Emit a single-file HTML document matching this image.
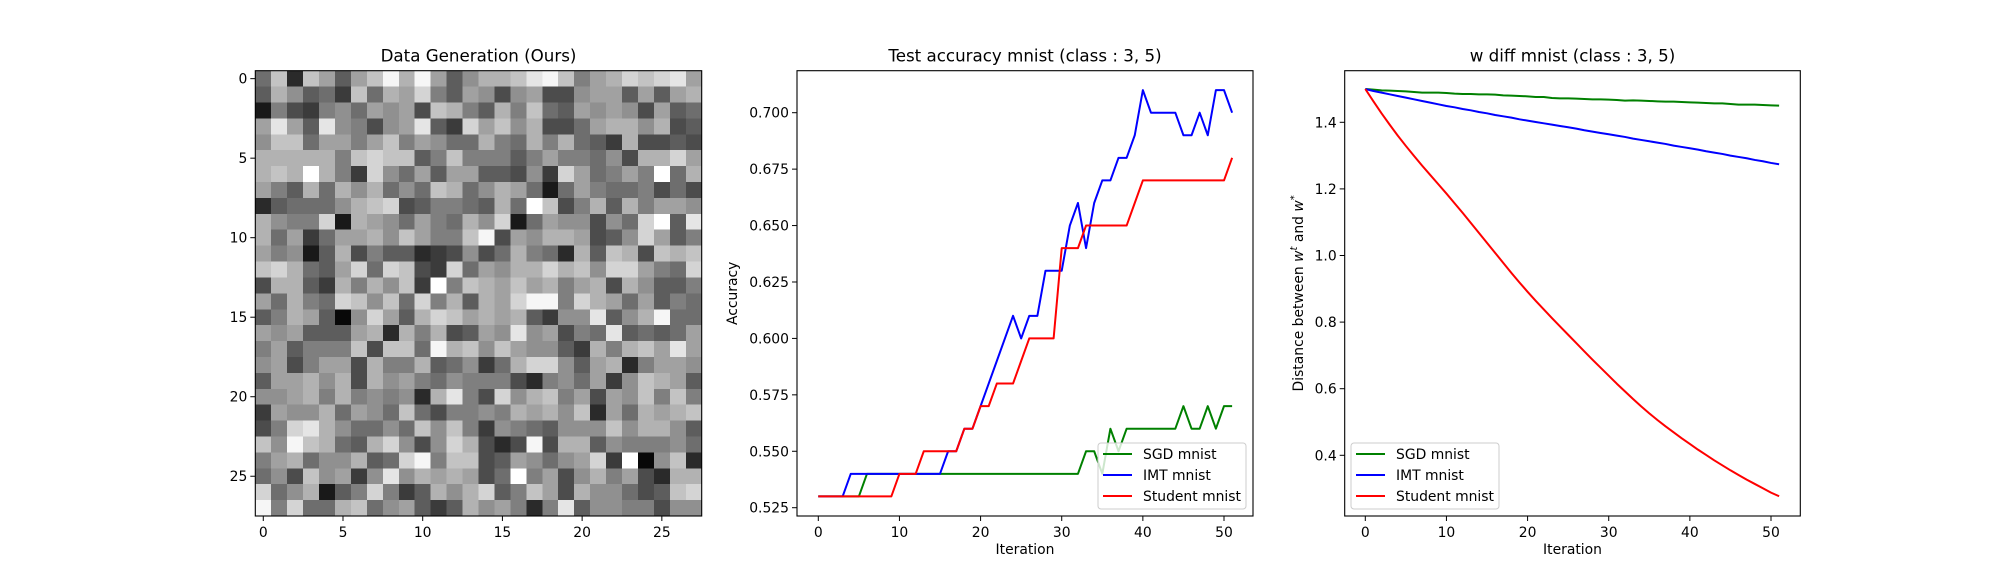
<!DOCTYPE html>
<html><head><meta charset="utf-8">
<style>
html,body{margin:0;padding:0;background:#fff;}
svg{display:block;font-family:"DejaVu Sans","Liberation Sans",sans-serif;}
</style></head>
<body>
<svg id="fig" width="2000" height="580" viewBox="0 0 2000 580" xmlns="http://www.w3.org/2000/svg">
<rect width="2000" height="580" fill="#fff"/>
</svg>
<script>
// ---------- data ----------
const pixelRows = [
"6B2B959BEAE958AABDEB79ACBCD9","5A8563B6A9C7598489448995959A","17437869894BA75A7B6598984956",
"9D95D87489D53C9B8A4469AA8A45","8BB69979B79866A76A7A653A4454","AAAAA7BCBB57B77757977684AAC9",
"ABAFA73C86959955483C96797F6A","975A6A8A686BA68A961697667464","256668ABC457765A6FB47A5A7998",
"A877C1A986976A8C16988486CF5D","A693699A8B977BE498AA9458C957","97815A4755234846A762A5BA4BAB",
"BCA659C6CB43C698AACAB8CC976C","4AA53A7A8B3F7BA9B9A79A4A8557","96A76CB8B6C7A5A9CEE7CA969576",
"57A9508C95ACB9A9A5388D58AE66","9895559A2A7A4598D89476D56569","795777B4BB6EAB8B98853A7AB9D9",
"8947994A77A56836ACC859A27998","599A8A4A8976877742786938BA95","889A7A78782AD74C8AB79498B7B7",
"3988A6986B647787A9A8B296A9AB","47CDA86686B8B738765888B8AA85","B8EBA65AC848CA424E4AA5877786",
"79A688A56CE7BB4598689C3F08B2","684B8938D8A9A946F7948A7942AA","C68A157C735A8AC57B94A88645BC",
"E7C66AB689535A89727D58877488"];
const imgTicks = [0,5,10,15,20,25];

const accIter = Array.from({length:52},(_,i)=>i);
const accSGD = [0.53,0.53,0.53,0.53,0.53,0.53,0.54,0.54,0.54,0.54,0.54,0.54,0.54,0.54,0.54,0.54,0.54,0.54,0.54,0.54,0.54,0.54,0.54,0.54,0.54,0.54,0.54,0.54,0.54,0.54,0.54,0.54,0.54,0.55,0.55,0.54,0.56,0.55,0.56,0.56,0.56,0.56,0.56,0.56,0.56,0.57,0.56,0.56,0.57,0.56,0.57,0.57];
const accIMT = [0.53,0.53,0.53,0.53,0.54,0.54,0.54,0.54,0.54,0.54,0.54,0.54,0.54,0.54,0.54,0.54,0.55,0.55,0.56,0.56,0.57,0.58,0.59,0.60,0.61,0.60,0.61,0.61,0.63,0.63,0.63,0.65,0.66,0.64,0.66,0.67,0.67,0.68,0.68,0.69,0.71,0.70,0.70,0.70,0.70,0.69,0.69,0.70,0.69,0.71,0.71,0.70];
const accStudent = [0.53,0.53,0.53,0.53,0.53,0.53,0.53,0.53,0.53,0.53,0.54,0.54,0.54,0.55,0.55,0.55,0.55,0.55,0.56,0.56,0.57,0.57,0.58,0.58,0.58,0.59,0.60,0.60,0.60,0.60,0.64,0.64,0.64,0.65,0.65,0.65,0.65,0.65,0.65,0.66,0.67,0.67,0.67,0.67,0.67,0.67,0.67,0.67,0.67,0.67,0.67,0.68];
const accYTicks = [0.525,0.550,0.575,0.600,0.625,0.650,0.675,0.700];
const xTicks = [0,10,20,30,40,50];

const wSGD = [1.500,1.498,1.496,1.495,1.494,1.493,1.491,1.489,1.489,1.489,1.488,1.486,1.485,1.485,1.484,1.484,1.483,1.481,1.480,1.479,1.478,1.476,1.476,1.473,1.472,1.472,1.471,1.470,1.469,1.469,1.468,1.467,1.465,1.466,1.465,1.464,1.463,1.462,1.462,1.461,1.460,1.459,1.458,1.457,1.457,1.455,1.453,1.453,1.453,1.452,1.451,1.450];
const wIMT = [1.500,1.494,1.489,1.484,1.479,1.474,1.469,1.464,1.459,1.454,1.449,1.445,1.440,1.436,1.431,1.427,1.422,1.418,1.414,1.409,1.405,1.401,1.397,1.393,1.389,1.385,1.381,1.376,1.372,1.368,1.364,1.360,1.356,1.351,1.347,1.343,1.339,1.335,1.330,1.326,1.322,1.318,1.313,1.309,1.305,1.300,1.296,1.292,1.287,1.283,1.278,1.274];
const wStudent = [1.500,1.463,1.427,1.393,1.360,1.329,1.299,1.270,1.242,1.214,1.186,1.157,1.128,1.098,1.068,1.038,1.008,0.978,0.948,0.919,0.891,0.864,0.838,0.812,0.787,0.762,0.737,0.712,0.687,0.663,0.639,0.615,0.592,0.569,0.547,0.526,0.506,0.487,0.469,0.451,0.434,0.417,0.401,0.385,0.370,0.355,0.341,0.327,0.314,0.301,0.288,0.277];
const wYTicks = [0.4,0.6,0.8,1.0,1.2,1.4];
const legendLabels = ["SGD mnist","IMT mnist","Student mnist"];
const seriesColors = ["#008000","#0000ff","#ff0000"];

// ---------- helpers ----------
const NS="http://www.w3.org/2000/svg";
const svg=document.getElementById('fig');
function mk(tag,attrs,parent){const e=document.createElementNS(NS,tag);for(const k in attrs)e.setAttribute(k,attrs[k]);(parent||svg).appendChild(e);return e;}
function txt(s,attrs,parent){const e=mk('text',attrs,parent);e.textContent=s;return e;}
function scale(d0,d1,r0,r1){return v=>r0+(v-d0)*(r1-r0)/(d1-d0);}

function axesFrame(g,L,T,R,B){
  const f=mk('rect',{x:L,y:T,width:R-L,height:B-T,fill:'none',stroke:'#000','stroke-width':1.1},g);
  
  
}
function xAxis(g,ticks,sx,B,fmt){
  const ga=mk('g',{},g);
  
  
  ticks.forEach(t=>{const x=sx(t);
    mk('line',{x1:x,y1:B,x2:x,y2:B+5,stroke:'#000','stroke-width':1},ga);
    const l=txt(fmt(t),{x:x,y:B+21,'font-size':13.9,'text-anchor':'middle',fill:'#000'},ga);
    
    
  });
}
function yAxis(g,ticks,sy,L,fmt){
  const ga=mk('g',{},g);
  
  
  ticks.forEach(t=>{const y=sy(t);
    mk('line',{x1:L-5,y1:y,x2:L,y2:y,stroke:'#000','stroke-width':1},ga);
    const l=txt(fmt(t),{x:L-8,y:y+5,'font-size':13.9,'text-anchor':'end',fill:'#000'},ga);
    
    
  });
}
function series(g,xs,ys,sx,sy,color,name){
  const p=mk('polyline',{points:xs.map((x,i)=>sx(x).toFixed(2)+','+sy(ys[i]).toFixed(2)).join(' '),fill:'none',stroke:color,'stroke-width':2,'stroke-linejoin':'round'},g);
  
  
}
function legend(g,x,y){
  const lg=mk('g',{},g);
  
  
  mk('rect',{x:x,y:y,width:148,height:66,rx:3,fill:'#fff','fill-opacity':0.8,stroke:'#ccc','stroke-width':1},lg);
  legendLabels.forEach((s,i)=>{const yy=y+11+i*21;
    const e=mk('g',{},lg);
    
    
    mk('line',{x1:x+5,y1:yy,x2:x+34,y2:yy,stroke:seriesColors[i],'stroke-width':2},e);
    txt(s,{x:x+45,y:yy+5,'font-size':13.9,fill:'#000'},e);
  });
}

// ---------- panel 1: heatmap ----------
(function(){
  const L=255.3,R=701.7,T=70.7,B=516;
  const g=mk('g',{});
  
  
  const sx=scale(-0.5,27.5,L,R), sy=scale(-0.5,27.5,T,B);
  const hg=mk('g',{'shape-rendering':'crispEdges'},g);
  
  
  pixelRows.forEach((row,r)=>{for(let c=0;c<row.length;c++){
    const v=Math.min(255,parseInt(row[c],16)*17+8);
    const x0=sx(c-0.5),x1=sx(c+0.5),y0=sy(r-0.5),y1=sy(r+0.5);
    const cell=mk('rect',{x:x0.toFixed(2),y:y0.toFixed(2),width:(x1-x0+0.4).toFixed(2),height:(y1-y0+0.4).toFixed(2),fill:`rgb(${v},${v},${v})`},hg);
    
    
  }});
  axesFrame(g,L,T,R,B);
  xAxis(g,imgTicks,sx,B,t=>String(t));
  yAxis(g,imgTicks,sy,L,t=>String(t));
  const t=txt('Data Generation (Ours)',{x:(L+R)/2,y:T-9,'font-size':16.7,'text-anchor':'middle',fill:'#000'},g);
  
  
})();

// ---------- panel 2: accuracy ----------
(function(){
  const L=797,R=1253,T=70.7,B=516;
  const g=mk('g',{});
  
  
  const sx=scale(0,50,818.3,1224), sy=scale(0.525,0.700,507.7,112.7);
  const cg=mk('g',{},g);
  const cp=mk('clipPath',{id:'c2'},cg);mk('rect',{x:L,y:T,width:R-L,height:B-T},cp);
  const pg=mk('g',{'clip-path':'url(#c2)'},g);
  series(pg,accIter,accSGD,sx,sy,seriesColors[0],'sgd-line');
  series(pg,accIter,accIMT,sx,sy,seriesColors[1],'imt-line');
  series(pg,accIter,accStudent,sx,sy,seriesColors[2],'student-line');
  axesFrame(g,L,T,R,B);
  xAxis(g,xTicks,sx,B,t=>String(t));
  yAxis(g,accYTicks,sy,L,t=>t.toFixed(3));
  legend(g,1098,443);
  const t=txt('Test accuracy mnist (class : 3, 5)',{x:(L+R)/2,y:T-9,'font-size':16.7,'text-anchor':'middle',fill:'#000'},g);
  
  
  const xl=txt('Iteration',{x:(L+R)/2,y:B+38,'font-size':13.9,'text-anchor':'middle',fill:'#000'},g);
  
  
  const yl=txt('Accuracy',{x:0,y:0,'font-size':13.9,'text-anchor':'middle',fill:'#000',transform:`translate(737,${(T+B)/2}) rotate(-90)`},g);
  
  
})();

// ---------- panel 3: w diff ----------
(function(){
  const L=1344.7,R=1800.3,T=70.7,B=516;
  const g=mk('g',{});
  
  
  const sx=scale(0,50,1365.3,1771), sy=scale(0.4,1.4,455.3,122.3);
  const cp=mk('clipPath',{id:'c3'},g);mk('rect',{x:L,y:T,width:R-L,height:B-T},cp);
  const pg=mk('g',{'clip-path':'url(#c3)'},g);
  series(pg,accIter,wSGD,sx,sy,seriesColors[0],'sgd-line');
  series(pg,accIter,wIMT,sx,sy,seriesColors[1],'imt-line');
  series(pg,accIter,wStudent,sx,sy,seriesColors[2],'student-line');
  axesFrame(g,L,T,R,B);
  xAxis(g,xTicks,sx,B,t=>String(t));
  yAxis(g,wYTicks,sy,L,t=>t.toFixed(1));
  legend(g,1351,443);
  const t=txt('w diff mnist (class : 3, 5)',{x:(L+R)/2,y:T-9,'font-size':16.7,'text-anchor':'middle',fill:'#000'},g);
  
  
  const xl=txt('Iteration',{x:(L+R)/2,y:B+38,'font-size':13.9,'text-anchor':'middle',fill:'#000'},g);
  
  
  const yl=mk('text',{x:0,y:0,'font-size':13.9,'text-anchor':'middle',fill:'#000',transform:`translate(1303,${(T+B)/2}) rotate(-90)`},g);
  
  
  yl.appendChild(document.createTextNode('Distance between '));
  const a=mk('tspan',{'font-style':'italic'},yl);a.textContent='w';
  const b=mk('tspan',{'font-style':'italic','font-size':10,dy:-6},yl);b.textContent='t';
  const c=mk('tspan',{dy:6},yl);c.textContent=' and ';
  const d=mk('tspan',{'font-style':'italic'},yl);d.textContent='w';
  const e=mk('tspan',{'font-size':10,dy:-6},yl);e.textContent='*';
})();
</script>
</body></html>
